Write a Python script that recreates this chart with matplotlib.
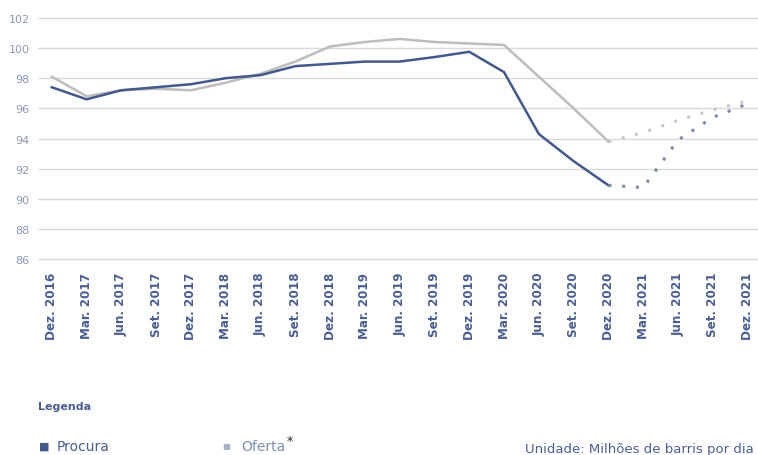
import matplotlib
matplotlib.use("Agg")
import matplotlib.pyplot as plt
import numpy as np

categories = ["Dez. 2016", "Mar. 2017", "Jun. 2017", "Set. 2017", "Dez. 2017",
              "Mar. 2018", "Jun. 2018", "Set. 2018", "Dez. 2018", "Mar. 2019",
              "Jun. 2019", "Set. 2019", "Dez. 2019", "Mar. 2020", "Jun. 2020",
              "Set. 2020", "Dez. 2020", "Mar. 2021", "Jun. 2021", "Set. 2021",
              "Dez. 2021"]
procura = [97.4, 96.6, 97.2, 97.4, 97.6, 98.0, 98.2, 98.8, 98.95, 99.1, 99.1,
           99.4, 99.75, 98.4, 94.3, 92.5, 90.9, 90.75, 93.9, 95.4, 96.3]
oferta = [98.1, 96.8, 97.2, 97.3, 97.2, 97.7, 98.3, 99.1, 100.1, 100.4, 100.6,
          100.4, 100.3, 100.2, 98.1, 96.0, 93.8, 94.4, 95.2, 95.9, 96.5]
yticks = [86, 88, 90, 92, 94, 96, 98, 100, 102]
n_actual = 17  # Dez. 2020 is last actual value; rest are projections

c_proc = "#42598a"
c_ofer = "#bdbdbd"
c_text = "#4a5f8e"

fig = plt.figure(figsize=(7.58, 4.56), dpi=100)
ax = fig.add_axes([0.05, 0.426, 0.95, 0.536])

x = np.arange(len(categories))
ax.plot(x[:n_actual], oferta[:n_actual], color=c_ofer, lw=1.8, zorder=2)
ax.plot(x[n_actual-1:], oferta[n_actual-1:], color="#c8c8c8", lw=2.2, ls=(0, (1, 3.5)), zorder=2)
ax.plot(x[:n_actual], procura[:n_actual], color=c_proc, lw=1.8, zorder=3)
ax.plot(x[n_actual-1:], procura[n_actual-1:], color="#7d8ca6", lw=2.2, ls=(0, (1, 3.5)), zorder=3)

ax.set_ylim(85.9, 102.1)
ax.set_xlim(-0.4, 20.3)
ax.set_yticks(yticks)
ax.set_yticklabels([str(v) for v in yticks])
ax.set_xticks(x)
ax.set_xticklabels(categories, rotation=90, family="DejaVu Sans",
                   fontstretch="condensed", fontsize=9.5, fontweight="bold",
                   color=c_text)
ax.tick_params(axis="y", length=0, labelsize=8, labelcolor="#8a98b8", pad=6)
ax.tick_params(axis="x", length=0, pad=8)
ax.grid(axis="y", color="#d9d9d9", lw=1.0)
for s in ax.spines.values():
    s.set_visible(False)

fig.text(0.05, 0.108, "Legenda", fontsize=8, fontweight="bold", color=c_text,
         ha="left", va="center")
fig.text(0.052, 0.02, "■", fontsize=8, color=c_proc, ha="left", va="center")
fig.text(0.075, 0.02, "Procura", fontsize=10, color=c_text, ha="left", va="center")
fig.text(0.293, 0.02, "■", fontsize=6, color="#a8b4c8", ha="left", va="center")
fig.text(0.318, 0.02, "Oferta", fontsize=10, color="#7d8fb4", ha="left", va="center")
fig.text(0.378, 0.032, "*", fontsize=9, color="#222222", ha="left", va="center")
fig.text(0.995, 0.015, "Unidade: Milhões de barris por dia", fontsize=9.5,
         color=c_text, ha="right", va="center")

fig.savefig("out.png", dpi=100)
